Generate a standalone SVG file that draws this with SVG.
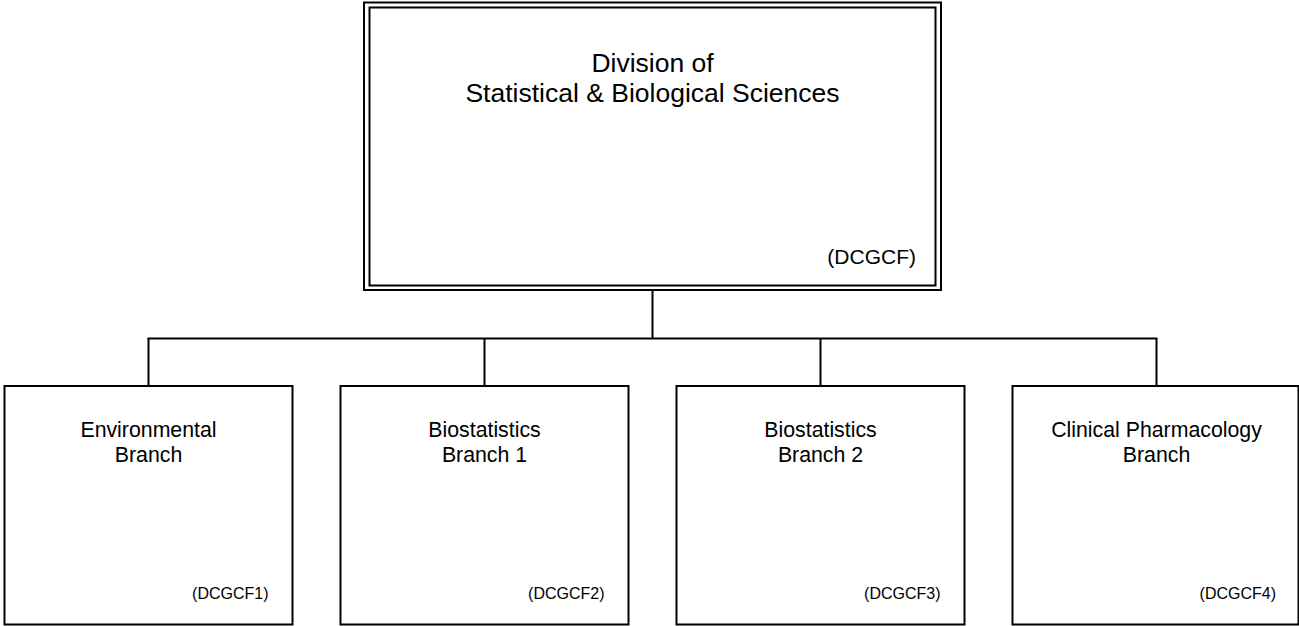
<svg xmlns="http://www.w3.org/2000/svg" width="1299" height="626" viewBox="0 0 1299 626">
<style>
.box{fill:#fff;stroke:#000;stroke-width:2}
.dbl{fill:none;stroke:#000;stroke-width:2}
.ln{fill:none;stroke:#000;stroke-width:2}
text{font-family:"Liberation Sans",Arial,sans-serif;fill:#000}
.t1{font-size:26.5px;text-anchor:middle}
.t2{font-size:21.3px;text-anchor:middle}
.c1{font-size:21px;text-anchor:end}
.c2{font-size:16px;text-anchor:end}
</style>
<rect width="1299" height="626" fill="#fff"/>
<g id="connectors">
<line class="ln" x1="652.5" y1="290" x2="652.5" y2="338.5"/>
<line class="ln" x1="147.5" y1="338.5" x2="1157.5" y2="338.5"/>
<line class="ln" x1="148.5" y1="338.5" x2="148.5" y2="386"/>
<line class="ln" x1="484.5" y1="338.5" x2="484.5" y2="386"/>
<line class="ln" x1="820.5" y1="338.5" x2="820.5" y2="386"/>
<line class="ln" x1="1156.5" y1="338.5" x2="1156.5" y2="386"/>
</g>
<g id="division">
<rect class="box" x="364" y="2.5" width="577" height="287.5"/>
<rect class="dbl" x="369.5" y="7.5" width="566" height="278"/>
<text class="t1" x="652.5" y="72">Division of</text>
<text class="t1" x="652.5" y="102">Statistical &amp; Biological Sciences</text>
<text class="c1" x="916" y="264">(DCGCF)</text>
</g>
<g id="branch1">
<rect class="box" x="4.5" y="386" width="288" height="238.5"/>
<text class="t2" x="148.5" y="437">Environmental</text>
<text class="t2" x="148.5" y="462">Branch</text>
<text class="c2" x="268.5" y="598.5">(DCGCF1)</text>
</g>
<g id="branch2">
<rect class="box" x="340.5" y="386" width="288" height="238.5"/>
<text class="t2" x="484.5" y="437">Biostatistics</text>
<text class="t2" x="484.5" y="462">Branch 1</text>
<text class="c2" x="604.5" y="598.5">(DCGCF2)</text>
</g>
<g id="branch3">
<rect class="box" x="676.5" y="386" width="288" height="238.5"/>
<text class="t2" x="820.5" y="437">Biostatistics</text>
<text class="t2" x="820.5" y="462">Branch 2</text>
<text class="c2" x="940.5" y="598.5">(DCGCF3)</text>
</g>
<g id="branch4">
<rect class="box" x="1012.5" y="386" width="286" height="238.5"/>
<text class="t2" x="1156.5" y="437">Clinical Pharmacology</text>
<text class="t2" x="1156.5" y="462">Branch</text>
<text class="c2" x="1276" y="598.5">(DCGCF4)</text>
</g>
</svg>
